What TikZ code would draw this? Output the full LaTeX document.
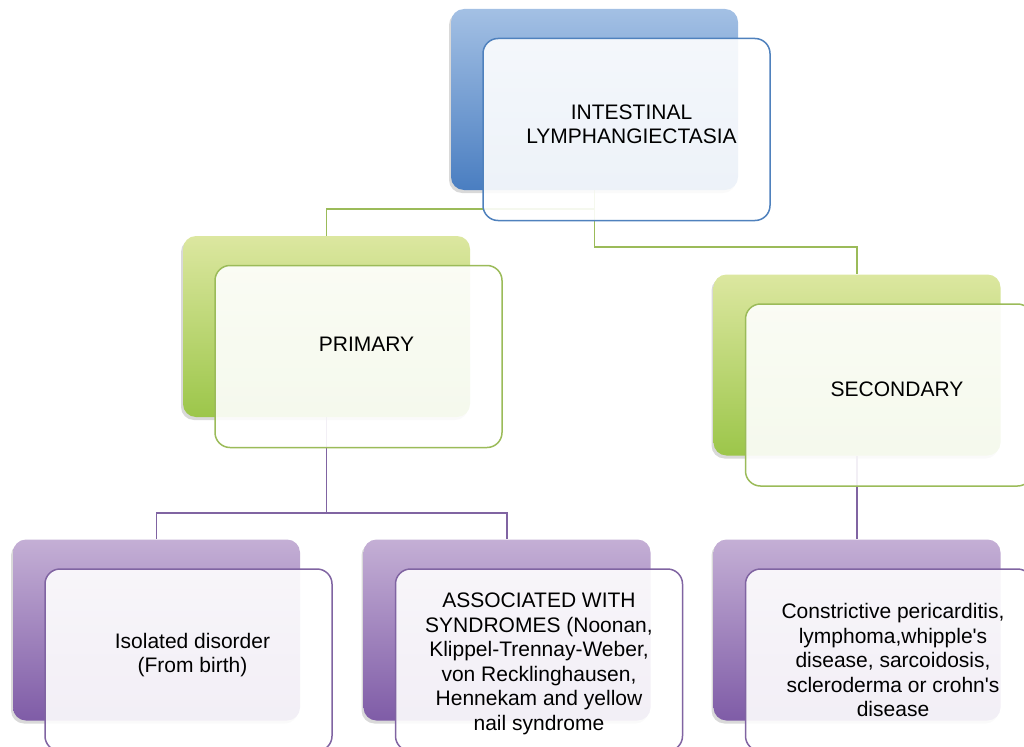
\documentclass[tikz,border=0pt]{standalone}
\usepackage{fontspec}
\setmainfont{Liberation Sans}
\usetikzlibrary{positioning,calc,shadows,backgrounds}

\definecolor{ilblue}{HTML}{4F81BD}
\definecolor{ilblueT}{HTML}{A3C0E4}
\definecolor{ilblueB}{HTML}{4A7EC1}
\definecolor{ilgreen}{HTML}{9BBB59}
\definecolor{ilgreenT}{HTML}{DCE7A0}
\definecolor{ilgreenB}{HTML}{9CC64A}
\definecolor{ilpurple}{HTML}{8064A2}
\definecolor{ilpurpleT}{HTML}{C4AFD5}
\definecolor{ilpurpleB}{HTML}{7F5CA7}

\begin{document}
\begin{tikzpicture}[x=1pt,y=-1pt,
  backbox/.style={rectangle,rounded corners=13pt,minimum width=287pt,minimum height=181pt,
    inner sep=0pt,drop shadow={shadow xshift=-2pt,shadow yshift=-3pt,opacity=0.3}},
  frontbox/.style={rectangle,rounded corners=15pt,line width=1.5pt,fill=white,fill opacity=0.9,
    minimum width=287pt,minimum height=182pt,inner sep=0pt},
  boxtext/.style={align=center,text opacity=1,font=\fontsize{21}{24.5}\selectfont},
  bluebox/.style={backbox,top color=ilblueT,bottom color=ilblueB},
  greenbox/.style={backbox,top color=ilgreenT,bottom color=ilgreenB},
  purplebox/.style={backbox,top color=ilpurpleT,bottom color=ilpurpleB},
  link/.style={line width=1.6pt}]

  \useasboundingbox (0,0) rectangle (1024,746);

  %% level 1
  \node [bluebox] (IL_b) at (594.5,99.5) {};
  \node [frontbox,draw=ilblue,
    label={[boxtext,xshift=5pt,yshift=5pt]center:INTESTINAL\\LYMPHANGIECTASIA}]
    (IL) at ($(IL_b) + (32,30)$) {};

  %% level 2
  \node [greenbox] (PRI_b) at (326.5,326.5) {};
  \node [frontbox,draw=ilgreen,
    label={[boxtext,xshift=8pt,yshift=12pt]center:PRIMARY}]
    (PRI) at ($(PRI_b) + (32,30)$) {};

  \node [greenbox] (SEC_b) at (857,365) {};
  \node [frontbox,draw=ilgreen,
    label={[boxtext,xshift=8pt,yshift=6pt]center:SECONDARY}]
    (SEC) at ($(SEC_b) + (32,30)$) {};

  %% level 3
  \node [purplebox] (ISO_b) at (156.5,630) {};
  \node [frontbox,draw=ilpurple,
    label={[boxtext,xshift=4pt,yshift=5pt]center:Isolated disorder\\ (From birth)}]
    (ISO) at ($(ISO_b) + (32,30)$) {};

  \node [purplebox] (ASSOC_b) at (507,630) {};
  \node [frontbox,draw=ilpurple,
    label={[boxtext,yshift=-4pt]center:ASSOCIATED WITH\\SYNDROMES (Noonan,\\Klippel-Trennay-Weber,\\von Recklinghausen,\\Hennekam and yellow\\nail syndrome}]
    (ASSOC) at ($(ASSOC_b) + (32,30)$) {};

  \node [purplebox] (CON_b) at (857,630) {};
  \node [frontbox,draw=ilpurple,
    label={[boxtext,xshift=4pt]center:Constrictive pericarditis,\\lymphoma,whipple\textquotesingle s\\disease, sarcoidosis,\\scleroderma or crohn\textquotesingle s\\disease}]
    (CON) at ($(CON_b) + (32,30)$) {};

  %% connectors
  \begin{scope}[on background layer]
    \draw [link,ilgreen] (IL_b.south) -- ++(0,19) -| (PRI_b.north);
    \draw [link,ilgreen] (IL_b.south) -- ++(0,57) -| (SEC_b.north);
    \draw [link,ilpurple] (PRI_b.south) -- ++(0,96) -| (ISO_b.north);
    \draw [link,ilpurple] (PRI_b.south) -- ++(0,96) -| (ASSOC_b.north);
    \draw [link,ilpurple] (SEC_b.south) -- (CON_b.north);
  \end{scope}
\end{tikzpicture}
\end{document}
